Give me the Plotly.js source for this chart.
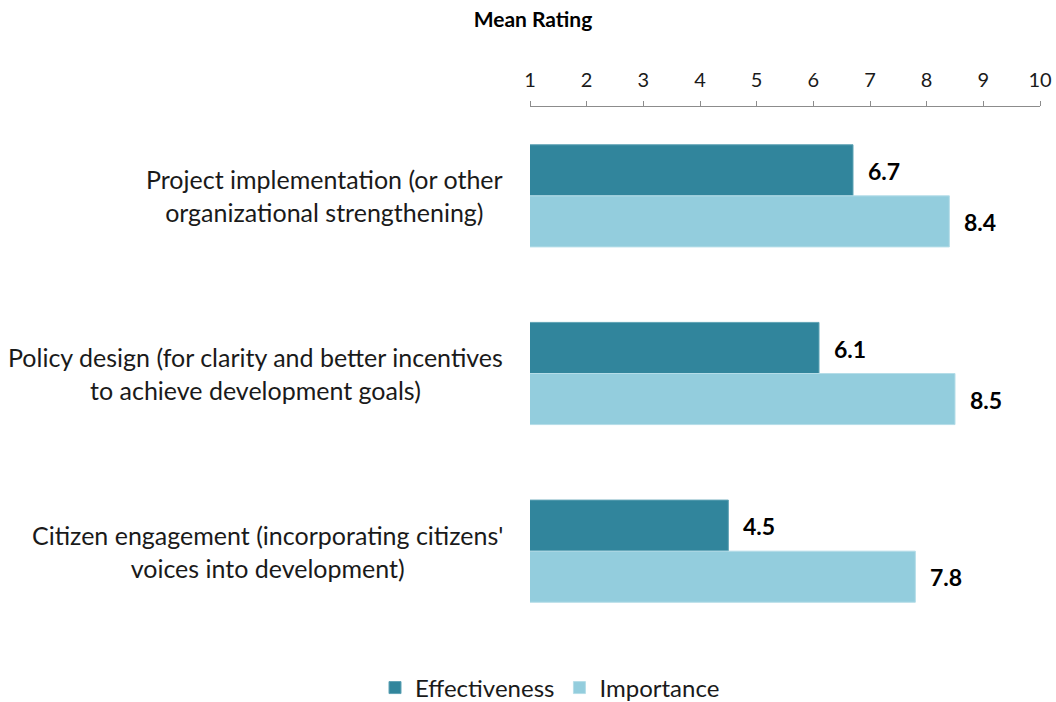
<!DOCTYPE html>
<html>
<head>
<meta charset="utf-8">
<script src="https://cdn.plot.ly/plotly-3.0.1.min.js"></script>
<style>html,body{margin:0;padding:0;background:#fff;}#chart{width:1056px;height:702px;}</style>
</head>
<body>
<div id="chart"></div>
<script>
const categories = [
  "Project implementation (or other<br>organizational strengthening)",
  "Policy design (for clarity and better incentives<br>to achieve development goals)",
  "Citizen engagement (incorporating citizens'<br>voices into development)"
];
const effectiveness = [6.7, 6.1, 4.5];
const importance = [8.4, 8.5, 7.8];
const seriesNames = ["Effectiveness", "Importance"];
const tickVals = [1, 2, 3, 4, 5, 6, 7, 8, 9, 10];

const FONT = "Lato, 'Open Sans', sans-serif";
const colors = ["#31859C", "#93CDDD"];
const idx = categories.map((c, i) => i);

const traces = [
  {type: "bar", orientation: "h", name: seriesNames[0], y: idx, x: effectiveness,
   marker: {color: colors[0], line: {color: "#5fa3b5", width: 1}}, hoverinfo: "x"},
  {type: "bar", orientation: "h", name: seriesNames[1], y: idx, x: importance,
   marker: {color: colors[1], line: {color: "#b5dde8", width: 1}}, hoverinfo: "x"}
];

const annotations = [];
categories.forEach((c, i) => {
  annotations.push({xref: "paper", yref: "y", x: (505 - 530) / 510, y: i, text: c, showarrow: false,
    xanchor: "right", yanchor: "middle", align: "center",
    font: {family: FONT, size: 25, color: "#1a1a1a"}});
  annotations.push({xref: "x", yref: "y", x: effectiveness[i], y: i, yshift: 25, xshift: 13,
    text: "<b>" + effectiveness[i].toFixed(1) + "</b>", showarrow: false, xanchor: "left", yanchor: "middle",
    font: {family: FONT, size: 23, color: "#000"}});
  annotations.push({xref: "x", yref: "y", x: importance[i], y: i, yshift: -26, xshift: 13,
    text: "<b>" + importance[i].toFixed(1) + "</b>", showarrow: false, xanchor: "left", yanchor: "middle",
    font: {family: FONT, size: 23, color: "#000"}});
});

const layout = {
  width: 1056, height: 702,
  margin: {l: 530, r: 16, t: 107, b: 62, autoexpand: false},
  paper_bgcolor: "#fff", plot_bgcolor: "#fff",
  barmode: "group", bargap: 0.425, bargroupgap: 0,
  title: {text: "<b>Mean Rating</b>", x: 533/1056, xanchor: "center", xref: "container",
          y: 1 - 20/702, yanchor: "middle", yref: "container",
          font: {family: FONT, size: 21, color: "#000"}},
  xaxis: {side: "top", range: [1, 10], tickvals: tickVals, ticktext: tickVals.map(String),
          showgrid: false, zeroline: false, showline: true, linecolor: "#8c8c8c", linewidth: 1,
          ticks: "outside", ticklen: 5, tickcolor: "#8c8c8c", ticklabelstandoff: 6,
          tickfont: {family: FONT, size: 20, color: "#1a1a1a"}, fixedrange: true},
  yaxis: {type: "linear", range: [2.5, -0.5], showticklabels: false, showgrid: false, zeroline: false,
          showline: false, ticks: "", fixedrange: true},
  showlegend: true,
  legend: {orientation: "h", x: (550 - 530) / 510, xanchor: "center", y: -0.09, yanchor: "middle",
           font: {family: FONT, size: 24, color: "#1a1a1a"}, itemwidth: 30, tracegroupgap: 0},
  annotations: annotations
};
Plotly.newPlot("chart", traces, layout, {displayModeBar: false, staticPlot: true});
</script>
</body>
</html>
